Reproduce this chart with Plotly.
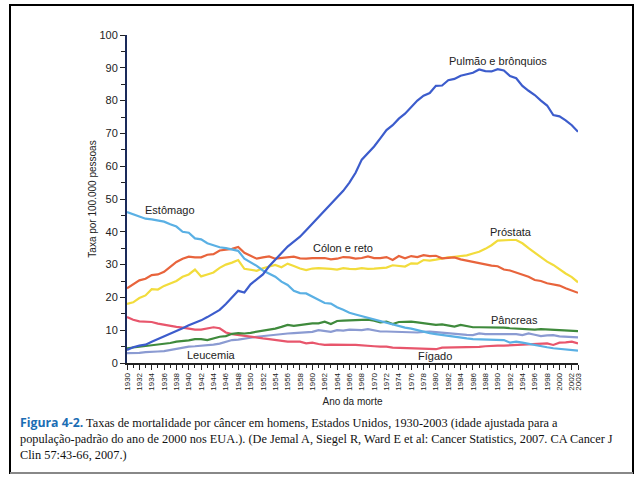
import plotly.graph_objects as go

years = list(range(1930, 2004))

pulmao = [4.0, 4.8, 5.3, 5.6, 6.5, 7.3, 8.0, 9.0, 9.8, 10.6, 11.5, 12.2, 13.0, 14.0, 15.0, 16.2,
          18.0, 20.0, 22.0, 21.5, 24.0, 25.5, 27.0, 29.5, 31.5, 33.5, 35.5, 37.0, 38.5, 40.5,
          42.5, 44.5, 46.5, 48.5, 50.5, 52.5, 55.0, 58.0, 62.0, 64.0, 66.0, 68.5, 71.0, 72.5,
          74.5, 76.0, 78.0, 80.0, 81.5, 82.3, 84.5, 84.6, 86.2, 86.6, 87.6, 88.0, 88.5, 89.5,
          89.0, 88.9, 89.6, 89.2, 87.5, 86.8, 84.5, 83.0, 81.7, 80.0, 78.5, 75.6, 75.2, 74.0,
          72.5, 70.5]

estomago = [46.0, 45.3, 44.5, 44.0, 43.8, 43.5, 43.1, 42.3, 41.6, 40.0, 39.7, 38.0, 37.7, 36.5,
            35.8, 35.3, 35.0, 34.5, 34.2, 31.8, 30.8, 29.6, 28.2, 27.3, 26.3, 24.8, 23.8, 22.0,
            21.3, 21.2, 20.2, 19.2, 18.3, 18.1, 17.0, 16.2, 15.3, 14.8, 14.3, 13.8, 13.2, 12.6,
            12.1, 11.6, 11.1, 10.8, 10.5, 10.0, 9.5, 9.1, 8.8, 8.5, 8.2, 8.0, 7.7, 7.5, 7.3,
            7.2, 7.1, 7.2, 7.0, 7.0, 6.2, 6.5, 6.2, 5.8, 5.5, 5.2, 4.8, 4.5, 4.3, 4.1, 3.9, 3.8]

colon = [22.8, 24.0, 25.2, 25.7, 26.8, 27.0, 27.8, 29.3, 30.8, 31.8, 32.4, 32.2, 32.2, 33.0,
         33.2, 34.3, 34.6, 34.8, 35.4, 33.6, 32.7, 31.8, 32.2, 32.5, 31.8, 32.0, 32.3, 32.4,
         31.9, 31.8, 32.0, 32.0, 32.0, 31.6, 31.8, 32.3, 32.2, 31.8, 32.0, 32.5, 32.0, 32.0,
         32.3, 31.4, 32.6, 31.9, 32.6, 32.3, 32.9, 32.6, 32.7, 31.9, 32.0, 32.2, 31.6, 31.2,
         30.9, 30.4, 29.9, 29.7, 29.5, 28.5, 28.2, 27.5, 27.0, 26.3, 25.3, 25.0, 24.3, 24.0,
         23.6, 22.8, 22.2, 21.4]

prostata = [18.0, 18.5, 19.8, 20.6, 22.5, 22.4, 23.5, 24.2, 25.0, 26.3, 27.0, 28.5, 26.4, 27.0,
            27.6, 29.0, 30.0, 30.6, 31.4, 28.7, 28.3, 28.1, 28.9, 29.4, 29.9, 29.2, 30.3, 29.6,
            28.8, 28.3, 28.8, 28.9, 28.9, 28.7, 28.5, 28.9, 28.7, 28.6, 28.9, 28.7, 28.8, 28.9,
            29.1, 29.8, 29.7, 29.4, 30.4, 30.3, 31.4, 31.2, 31.5, 31.9, 32.2, 32.4, 32.6, 32.8,
            33.4, 33.9, 34.8, 35.9, 37.3, 37.5, 37.5, 37.5, 36.5, 35.0, 33.6, 32.2, 30.9, 29.9,
            28.5, 27.3, 26.2, 24.6]

pancreas = [4.5, 4.7, 5.0, 5.1, 5.3, 5.5, 5.9, 6.1, 6.5, 6.6, 6.9, 7.3, 7.3, 7.0, 7.5, 8.0, 8.2,
            8.9, 9.1, 9.0, 9.2, 9.5, 9.8, 10.0, 10.5, 11.0, 11.6, 11.3, 11.6, 12.0, 12.1, 12.1,
            12.6, 11.9, 12.8, 12.9, 13.0, 13.1, 13.2, 13.2, 12.9, 12.4, 12.6, 11.9, 12.5, 12.6,
            12.6, 12.4, 12.2, 11.9, 11.6, 11.8, 11.5, 11.1, 11.6, 11.2, 10.9, 10.9, 10.9, 10.9,
            10.9, 10.8, 10.6, 10.5, 10.3, 10.1, 10.2, 10.3, 10.2, 10.1, 10.1, 10.0, 10.0, 9.7]

leucemia = [3.0, 3.0, 3.1, 3.3, 3.5, 3.5, 3.6, 4.0, 4.4, 4.7, 5.0, 5.1, 5.2, 5.3, 5.6, 5.9, 6.5,
            7.0, 7.1, 7.3, 7.7, 8.0, 8.2, 8.5, 8.7, 9.0, 9.0, 9.1, 9.3, 9.5, 9.5, 10.0, 9.8, 9.5,
            10.0, 9.9, 10.2, 10.2, 10.0, 10.3, 10.0, 9.6, 9.6, 9.5, 9.5, 9.4, 9.2, 9.3, 9.5, 9.6,
            9.4, 9.2, 9.1, 9.0, 8.8, 8.6, 8.5, 9.0, 8.8, 8.8, 8.8, 8.9, 9.0, 8.8, 8.5, 9.0, 8.6,
            8.2, 8.4, 8.5, 8.1, 8.0, 8.0, 7.8]

figado = [14.0, 13.2, 12.7, 12.6, 12.5, 12.0, 11.6, 11.4, 11.0, 10.8, 10.4, 10.2, 10.2, 10.5,
          10.9, 10.6, 9.3, 8.8, 8.5, 8.3, 8.0, 7.7, 7.5, 7.3, 7.0, 6.8, 6.5, 6.5, 6.5, 6.0, 6.2,
          5.8, 5.5, 5.6, 5.5, 5.6, 5.5, 5.5, 5.3, 5.3, 5.1, 5.0, 5.0, 4.7, 4.6, 4.5, 4.5, 4.5,
          4.4, 4.3, 4.2, 4.7, 4.7, 4.7, 4.7, 4.7, 4.7, 4.9, 5.1, 5.3, 5.3, 5.3, 5.4, 5.6, 5.7,
          5.9, 6.0, 6.0, 6.0, 5.5, 6.2, 6.3, 6.5, 6.0]

series = [
    ("Leucemia", leucemia, "#8b9bd2"),
    ("Fígado", figado, "#e8566c"),
    ("Pâncreas", pancreas, "#3f8a3c"),
    ("Próstata", prostata, "#f2dc3c"),
    ("Cólon e reto", colon, "#e8643c"),
    ("Estômago", estomago, "#5ab0e4"),
    ("Pulmão e brônquios", pulmao, "#3c5ccc"),
]

# label positions (year, value)
labels = [
    ("Pulmão e brônquios", 1990.0, 92.0),
    ("Estômago", 1937.0, 46.5),
    ("Cólon e reto", 1965.0, 35.0),
    ("Próstata", 1992.2, 40.0),
    ("Pâncreas", 1992.8, 13.2),
    ("Leucemia", 1943.6, 2.5),
    ("Fígado", 1979.9, 2.0),
]

tick_years = list(range(1930, 2003, 2)) + [2003]

fig = go.Figure()
for name, vals, color in series:
    fig.add_trace(go.Scatter(x=years, y=vals, mode="lines", name=name,
                             line=dict(color=color, width=2.2), showlegend=False))

for text, x, y in labels:
    fig.add_annotation(x=x, y=y, text=text, showarrow=False,
                       font=dict(family="Liberation Sans", size=11, color="#222"))

fig.update_layout(
    width=640, height=477,
    margin=dict(l=127, r=62, t=35, b=114),
    paper_bgcolor="white", plot_bgcolor="white",
    font=dict(family="Liberation Sans", color="#222"),
    xaxis=dict(range=[1930, 2003], tickmode="array", tickvals=tick_years,
               ticktext=[str(y) for y in tick_years], tickangle=-90,
               tickfont=dict(size=8), ticks="outside", ticklen=5, tickcolor="#222",
               showline=True, linecolor="#222", linewidth=1.5, showgrid=False,
               zeroline=False,
               minor=dict(dtick=1, tick0=1930, ticks="outside", ticklen=3, tickcolor="#222"),
               title=dict(text="Ano da morte", font=dict(size=10), standoff=8)),
    yaxis=dict(range=[0, 100], dtick=10, tickfont=dict(size=11), ticks="outside",
               ticklen=5, tickcolor="#222", showline=True, linecolor="#1a2a5a",
               linewidth=2, showgrid=False, zeroline=False,
               minor=dict(dtick=5, ticks="outside", ticklen=4, tickcolor="#222"),
               title=dict(text="Taxa por 100.000 pessoas", font=dict(size=10), standoff=1)),
)

caption = ("<span style='font-family:Open Sans;font-weight:bold;color:#1b6db4'>Figura 4-2.</span> "
           "Taxas de mortalidade por câncer em homens, Estados Unidos, 1930-2003 (idade ajustada para a<br>"
           "população-padrão do ano de 2000 nos EUA.). (De Jemal A, Siegel R, Ward E et al: Cancer Statistics, 2007. CA Cancer J<br>"
           "Clin 57:43-66, 2007.)")
fig.add_annotation(xref="paper", yref="paper", x=(18 - 127) / 451, y=(363 - 412) / 328,
                   xanchor="left", yanchor="top", align="left", showarrow=False,
                   text=caption, font=dict(family="Liberation Serif", size=12.3, color="#111"))

# frame
x0, x1 = (10 - 127) / 451, (633 - 127) / 451
y0, y1 = (363 - 473) / 328, (363 - 5) / 328
fig.add_shape(type="rect", xref="paper", yref="paper", x0=x0, x1=x1, y0=y0, y1=y1,
              line=dict(color="black", width=2))
fig.add_shape(type="line", xref="paper", yref="paper", x0=x0, x1=x1, y0=y0, y1=y0,
              line=dict(color="#888", width=2))

fig.write_html("out.html", config={"displayModeBar": False},
               post_script="document.body.style.margin='0';")
